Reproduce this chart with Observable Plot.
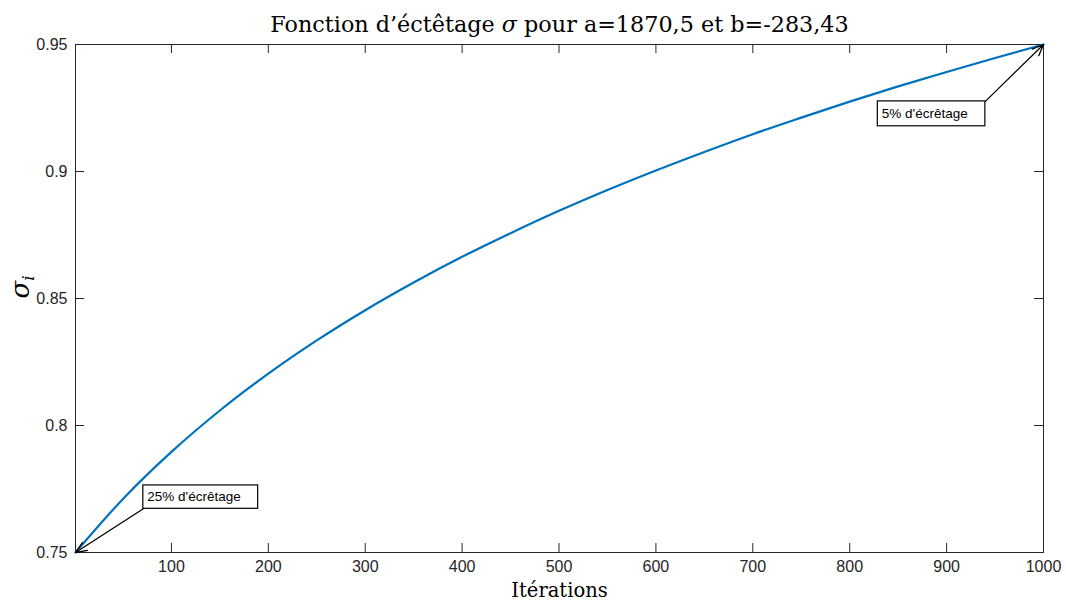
<!DOCTYPE html>
<html>
<head>
<meta charset="utf-8">
<script src="https://cdn.jsdelivr.net/npm/d3@7"></script>
<script src="https://cdn.jsdelivr.net/npm/@observablehq/plot@0.6"></script>
<style>
  html, body { margin: 0; padding: 0; background: #ffffff; }
</style>
</head>
<body>
<div id="chart"></div>
<script>
// ---- data ----
const iterations = [1, 50, 100, 150, 200, 250, 300, 350, 400, 450, 500,
                    550, 600, 650, 700, 750, 800, 850, 900, 950, 1000];
const sigma = [0.7500, 0.7711, 0.7896, 0.8059, 0.8204, 0.8335, 0.8454, 0.8563, 0.8664, 0.8757, 0.8845,
               0.8927, 0.9004, 0.9077, 0.9147, 0.9212, 0.9275, 0.9335, 0.9392, 0.9447, 0.9500];

const xTicks = [100, 200, 300, 400, 500, 600, 700, 800, 900, 1000];
const yTicks = [0.75, 0.8, 0.85, 0.9, 0.95];
const yTickLabels = ["0.75", "0.8", "0.85", "0.9", "0.95"];

const noteLabels = ["25% d'écrêtage", "5% d'écrêtage"];
const noteTipX = [1, 1000];
const noteTipY = [0.75, 0.95];
const noteTailX = [71, 940];
const noteTailY = [0.7672, 0.9276];
const noteBoxX1 = [71, 829];
const noteBoxX2 = [189.5, 940];
const noteBoxY1 = [0.7672, 0.9178];
const noteBoxY2 = [0.7764, 0.9276];

const titleText = "Fonction d’éctêtage σ pour a=1870,5 et b=-283,43";
const xLabel = "Itérations";
const yLabel = "σ";

// ---- build tables ----
const curve = iterations.map((x, k) => ({x, y: sigma[k]}));
const notes = noteLabels.map((text, k) => ({
  text,
  tipX: noteTipX[k], tipY: noteTipY[k],
  tailX: noteTailX[k], tailY: noteTailY[k],
  x1: noteBoxX1[k], x2: noteBoxX2[k], y1: noteBoxY1[k], y2: noteBoxY2[k]
}));

const axisColor = "#262626";
const serif = "'DejaVu Serif', 'Liberation Serif', serif";

const chart = Plot.plot({
  width: 1066,
  height: 603,
  marginLeft: 75,
  marginRight: 23,
  marginTop: 44,
  marginBottom: 51,
  style: {fontFamily: "'Liberation Sans', Arial, sans-serif", fontSize: "16px", color: axisColor, background: "#ffffff"},
  x: {domain: [1, 1000]},
  y: {domain: [0.75, 0.95]},
  marks: [
    Plot.frame({stroke: axisColor, strokeWidth: 1}),
    // inward ticks (MATLAB box style)
    Plot.tickX(xTicks, {x: d => d, insetTop: 499, stroke: axisColor, strokeWidth: 1}),
    Plot.tickX(xTicks, {x: d => d, insetBottom: 499, stroke: axisColor, strokeWidth: 1}),
    Plot.tickY(yTicks, {y: d => d, insetRight: 959, stroke: axisColor, strokeWidth: 1}),
    Plot.tickY(yTicks, {y: d => d, insetLeft: 959, stroke: axisColor, strokeWidth: 1}),
    Plot.axisX(xTicks, {tickSize: 0, tickPadding: 8, fontSize: 16, label: null, tickFormat: d => String(d), fill: axisColor}),
    Plot.axisY(yTicks, {tickSize: 0, tickPadding: 8, fontSize: 16, label: null, tickFormat: d => yTickLabels[yTicks.indexOf(d)], fill: axisColor}),
    // curve
    Plot.line(curve, {x: "x", y: "y", stroke: "#0072BD", strokeWidth: 2.2, curve: "monotone-x"}),
    // annotations
    Plot.arrow(notes, {x1: "tailX", y1: "tailY", x2: "tipX", y2: "tipY", stroke: "#000000", strokeWidth: 1.3, headLength: 14, headAngle: 45}),
    Plot.rect(notes, {x1: "x1", x2: "x2", y1: "y1", y2: "y2", fill: "#ffffff", stroke: "#000000", strokeWidth: 1.2}),
    Plot.text(notes, {x: "x1", y: d => (d.y1 + d.y2) / 2, text: "text", textAnchor: "start", dx: 4, fontSize: 13.5, fill: "#000000"}),
    // title and labels
    Plot.text([titleText], {frameAnchor: "top", dy: -28, text: d => d, fontSize: 22.3, fontFamily: serif, fill: "#000000", className: "ttl"}),
    Plot.text([xLabel], {frameAnchor: "bottom", dy: 44, text: d => d, fontSize: 19.5, fontFamily: serif, fill: "#000000"}),
    Plot.text([yLabel], {frameAnchor: "left", dx: -55, rotate: -90, text: d => d, fontSize: 26, fontFamily: serif, fontStyle: "italic", fill: "#000000", className: "ylab"})
  ]
});

document.getElementById("chart").appendChild(chart);

// italic sigma in title, subscript i on y label
const t = d3.select(chart).select("g.ttl text");
t.text(null);
t.append("tspan").text("Fonction d’éctêtage ");
t.append("tspan").attr("font-style", "italic").text("σ");
t.append("tspan").text(" pour a=1870,5 et b=-283,43");

const yl = d3.select(chart).select("g.ylab text");
yl.append("tspan").attr("font-size", 17).attr("dy", "0.3em").text("i");
</script>
</body>
</html>
